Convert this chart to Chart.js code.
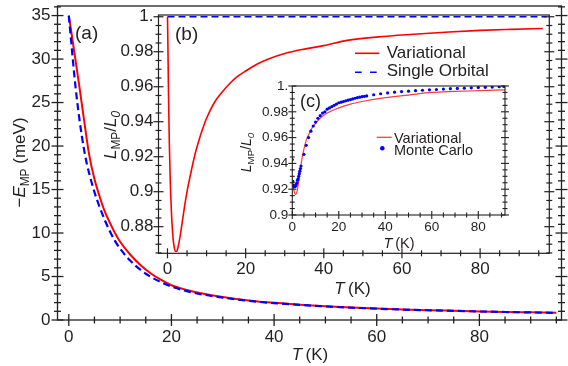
<!DOCTYPE html>
<html>
<head>
<meta charset="utf-8">
<script src="https://cdn.jsdelivr.net/npm/chart.js@4.4.0/dist/chart.umd.min.js"></script>
<style>
html, body { margin: 0; padding: 0; background: #fff; }
#wrap { position: relative; width: 568px; height: 366px; }
canvas { position: absolute; left: 0; top: 0; }
</style>
</head>
<body>
<div id="wrap">
  <canvas id="chartA" width="568" height="366"></canvas>
  <canvas id="chartB" width="568" height="366"></canvas>
  <canvas id="chartC" width="568" height="366"></canvas>
</div>
<script>
// ---- (a) -E_MP (meV) vs T (K)
const tempA = [0, 0.5, 1, 1.5, 2, 2.5, 3, 3.5, 4, 5, 6, 7, 8, 9, 10, 12, 14, 16, 18, 20, 23, 26, 30, 35, 40, 45, 50, 55, 60, 65, 70, 75, 80, 85, 90, 95];
const energyVar = [35, 33.1, 31.1, 29.1, 27.1, 25.0, 22.9, 20.8, 18.9, 16.2, 14.2, 12.5, 11.2, 10.0, 9.0, 7.5, 6.3, 5.35, 4.6, 4.0, 3.45, 3.05, 2.65, 2.25, 1.97, 1.76, 1.58, 1.44, 1.32, 1.22, 1.13, 1.06, 0.99, 0.93, 0.88, 0.83];
const energySingle = [35, 31.8, 28.6, 25.8, 23.4, 21.3, 19.5, 18.0, 16.8, 14.7, 13.0, 11.5, 10.2, 9.1, 8.2, 6.8, 5.75, 4.95, 4.35, 3.85, 3.32, 2.94, 2.57, 2.2, 1.94, 1.74, 1.56, 1.42, 1.3, 1.2, 1.12, 1.05, 0.98, 0.92, 0.87, 0.82];
const xTicksA = [0, 20, 40, 60, 80];
const yTicksA = [0, 5, 10, 15, 20, 25, 30, 35];

// ---- (b) L_MP/L_0 vs T (K)
const tempB = [0, 0.1, 0.25, 0.45, 0.7, 1.0, 1.3, 1.6, 2.0, 2.4, 2.8, 3.2, 3.8, 4.4, 5, 6, 7, 8, 9, 10, 12, 14, 16, 18, 20, 23, 26, 30, 35, 40, 46, 54, 63, 72, 80, 88, 96];
const ratioVarB = [1.0, 0.985, 0.958, 0.93, 0.907, 0.889, 0.877, 0.87, 0.866, 0.866, 0.8695, 0.874, 0.883, 0.892, 0.9, 0.911, 0.921, 0.929, 0.936, 0.942, 0.951, 0.957, 0.962, 0.966, 0.969, 0.973, 0.976, 0.979, 0.9815, 0.9835, 0.9865, 0.9885, 0.99, 0.9913, 0.9922, 0.9928, 0.9933];
const tempSingleB = [0, 97];
const ratioSingleB = [1, 1];
const xTicksB = [0, 20, 40, 60, 80];
const yTicksB = [0.88, 0.9, 0.92, 0.94, 0.96, 0.98, 1];
const yLabelsB = ['0.88', '0.9', '0.92', '0.94', '0.96', '0.98', '1.'];

// ---- (c) L_MP/L_0 vs T (K), variational vs Monte Carlo
const tempC = [0, 0.5, 1, 1.5, 2, 2.5, 3, 4, 5, 6, 7, 8, 10, 12, 15, 20, 25, 30, 40, 50, 60, 70, 80, 91.5];
const ratioVarC = [0.926, 0.921, 0.917, 0.916, 0.918, 0.923, 0.929, 0.942, 0.951, 0.958, 0.962, 0.966, 0.971, 0.975, 0.979, 0.983, 0.986, 0.988, 0.991, 0.993, 0.995, 0.9958, 0.9964, 0.997];
const tempMC = [0, 0.25, 0.5, 0.75, 1, 1.25, 1.5, 1.75, 2, 2.25, 2.5, 2.75, 3, 3.25, 3.5, 3.75,
  5, 6, 7, 8, 9, 10, 11, 12, 13, 14, 15, 16, 17, 18, 19, 20, 21, 22, 23, 24, 25, 26, 27, 28, 29, 30, 31, 32,
  35, 38, 41, 44, 47, 50, 53, 56, 59, 62, 65, 68, 71, 74, 77, 80, 83, 86, 89, 91];
const ratioMC = [0.943, 0.926, 0.923, 0.922, 0.922, 0.922, 0.923, 0.924, 0.925, 0.927, 0.928, 0.930, 0.932, 0.934, 0.936, 0.938,
  0.947, 0.954, 0.960, 0.965, 0.969, 0.972, 0.975, 0.977, 0.979, 0.980, 0.982, 0.983, 0.984, 0.985, 0.986, 0.987, 0.9875, 0.988, 0.9885, 0.989, 0.9895, 0.990, 0.9905, 0.991, 0.9913, 0.9917, 0.992, 0.9923,
  0.9932, 0.994, 0.9946, 0.9952, 0.9957, 0.996, 0.9964, 0.9967, 0.997, 0.9973, 0.9976, 0.9979, 0.9981, 0.9983, 0.9986, 0.9988, 0.999, 0.9992, 0.9994, 0.9996];
const xTicksC = [0, 20, 40, 60, 80];
const yTicksC = [0.9, 0.92, 0.94, 0.96, 0.98, 1];
const yLabelsC = ['0.9', '0.92', '0.94', '0.96', '0.98', '1.'];

const TXT = '#231f20';
const RED = '#ff0000';
const BLUE = '#0000ff';
const FONT = '"Liberation Sans", Arial, sans-serif';

Chart.defaults.font.family = FONT;
Chart.defaults.color = TXT;

const pts = (xs, ys) => xs.map((x, i) => ({ x: x, y: ys[i] }));

// rich text: parts = [[text, flags]], flags 'i' italic, 's' subscript
function richText(ctx, parts, x, y, size, align, rotate) {
    ctx.save();
    ctx.translate(x, y);
    if (rotate) ctx.rotate(-Math.PI / 2);
    const fontFor = p => (p[1].includes('i') ? 'italic ' : '') + (p[1].includes('s') ? size * 0.7 : size) + 'px ' + FONT;
    let w = 0;
    parts.forEach(p => { ctx.font = fontFor(p); w += ctx.measureText(p[0]).width; });
    let cx = align === 'center' ? -w / 2 : 0;
    ctx.fillStyle = TXT;
    ctx.textBaseline = 'alphabetic';
    ctx.textAlign = 'left';
    parts.forEach(p => {
        ctx.font = fontFor(p);
        ctx.fillText(p[0], cx, p[1].includes('s') ? size * 0.22 : 0);
        cx += ctx.measureText(p[0]).width;
    });
    ctx.restore();
}

// frame, mirrored crossing ticks, white plot background, annotations
function makeFrame(c) {
    return {
        id: 'frame_' + c.id,
        beforeDraw(chart) {
            if (!c.fill) return;
            const a = chart.chartArea, ctx = chart.ctx;
            ctx.save();
            ctx.fillStyle = '#fff';
            ctx.fillRect(a.left, a.top, a.right - a.left, a.bottom - a.top);
            ctx.restore();
        },
        afterDatasetsDraw(chart) {
            const a = chart.chartArea, ctx = chart.ctx;
            const xs = chart.scales.x, ys = chart.scales.y;
            ctx.save();
            ctx.strokeStyle = TXT;
            ctx.lineWidth = c.lw;
            ctx.strokeRect(a.left, a.top, a.right - a.left, a.bottom - a.top);
            const tick = (x1, y1, x2, y2) => { ctx.beginPath(); ctx.moveTo(x1, y1); ctx.lineTo(x2, y2); ctx.stroke(); };
            const steps = (min, max, st) => {
                const out = [];
                for (let v = Math.ceil(min / st - 1e-9) * st; v <= max + 1e-9; v += st) out.push(v);
                return out;
            };
            const isMajor = (v, st) => Math.abs(v / st - Math.round(v / st)) < 1e-6;
            steps(xs.min, xs.max, c.xMinor).forEach(v => {
                const L = isMajor(v, c.xMajor) ? c.major : c.minor;
                const px = xs.getPixelForValue(v);
                tick(px, a.bottom - L, px, a.bottom + L);
            });
            steps(ys.min, ys.max, c.yMinor).forEach(v => {
                const L = isMajor(v, c.yMajor) ? c.major : c.minor;
                const py = ys.getPixelForValue(v);
                tick(a.left - L, py, a.left + L, py);
                tick(a.right - L, py, a.right + L, py);
            });
            ctx.restore();
        },
        afterDraw(chart) {
            c.annotate(chart.ctx);
        }
    };
}

function buildChart(id, datasets, c) {
    return new Chart(document.getElementById(id), {
        type: 'scatter',
        data: { datasets: datasets },
        options: {
            responsive: false,
            animation: false,
            events: [],
            layout: { padding: { left: 0, top: c.area.top, right: 568 - c.area.right, bottom: 0 } },
            plugins: { legend: { display: false }, tooltip: { enabled: false } },
            scales: {
                x: {
                    type: 'linear', min: c.xMin, max: c.xMax,
                    grid: { display: false, drawTicks: false }, border: { display: false },
                    afterBuildTicks: s => { s.ticks = c.xTicks.map(v => ({ value: v })); },
                    afterFit: s => { s.height = 366 - c.area.bottom; s.paddingLeft = 0; s.paddingRight = 0; },
                    ticks: { autoSkip: false, maxRotation: 0, padding: c.xPad, color: TXT, font: { size: c.tickSize }, callback: (v, i) => c.xLabels[i] }
                },
                y: {
                    type: 'linear', min: c.yMin, max: c.yMax,
                    grid: { display: false, drawTicks: false }, border: { display: false },
                    afterBuildTicks: s => { s.ticks = c.yTicks.map(v => ({ value: v })); },
                    afterFit: s => { s.width = c.area.left; s.paddingTop = 0; s.paddingBottom = 0; },
                    ticks: { autoSkip: false, padding: c.yPad, color: TXT, font: { size: c.tickSize }, callback: (v, i) => c.yLabels[i] }
                }
            }
        },
        plugins: [makeFrame(c)]
    });
}

// ---- main panel (a)
buildChart('chartA', [
    { data: pts(tempA, energySingle), showLine: true, pointRadius: 0, borderColor: BLUE, borderWidth: 2.2, borderDash: [7, 4], cubicInterpolationMode: 'monotone' },
    { data: pts(tempA, energyVar), showLine: true, pointRadius: 0, borderColor: RED, borderWidth: 2, cubicInterpolationMode: 'monotone' }
], {
    id: 'a', area: { left: 57.5, top: 6, right: 561.5, bottom: 320 },
    xMin: -2.2, xMax: 96, yMin: 0, yMax: 36.1,
    xTicks: xTicksA, xLabels: xTicksA.map(String), yTicks: yTicksA, yLabels: yTicksA.map(String),
    xPad: 7, yPad: 7, tickSize: 17,
    xMajor: 20, xMinor: 5, yMajor: 5, yMinor: 1, major: 6, minor: 3.5, lw: 1.3, fill: false,
    annotate(ctx) {
        richText(ctx, [['(a)', '']], 75, 39, 19, 'left');
        richText(ctx, [['\u2212', ''], ['E', 'i'], ['MP', 's'], [' (meV)', '']], 25, 162.5, 17, 'center', true);
        richText(ctx, [['T', 'i'], ['\u2009(K)', '']], 310, 360, 17, 'center');
    }
});

// ---- inset (b)
buildChart('chartB', [
    { data: pts(tempSingleB, ratioSingleB), showLine: true, pointRadius: 0, borderColor: BLUE, borderWidth: 1.6, borderDash: [7, 4] },
    { data: pts(tempB, ratioVarB), showLine: true, pointRadius: 0, borderColor: RED, borderWidth: 1.6, cubicInterpolationMode: 'monotone' }
], {
    id: 'b', area: { left: 158.5, top: 15, right: 549.3, bottom: 253.3 },
    xMin: -2.3, xMax: 97.7, yMin: 0.8648, yMax: 1.001,
    xTicks: xTicksB, xLabels: xTicksB.map(String), yTicks: yTicksB, yLabels: yLabelsB,
    xPad: 6, yPad: 5, tickSize: 17,
    xMajor: 20, xMinor: 5, yMajor: 0.02, yMinor: 0.005, major: 5, minor: 3, lw: 1.2, fill: true,
    annotate(ctx) {
        richText(ctx, [['(b)', '']], 175, 39.5, 19, 'left');
        richText(ctx, [['L', 'i'], ['MP', 's'], ['/', ''], ['L', 'i'], ['0', 'si']], 116, 135, 17, 'center', true);
        richText(ctx, [['T', 'i'], ['\u2009(K)', '']], 352.5, 293.5, 17, 'center');
        ctx.save();
        ctx.lineWidth = 1.6;
        ctx.strokeStyle = RED;
        ctx.beginPath(); ctx.moveTo(355, 53.3); ctx.lineTo(379.3, 53.3); ctx.stroke();
        ctx.strokeStyle = BLUE;
        ctx.setLineDash([6.7, 8.3]);
        ctx.beginPath(); ctx.moveTo(355, 72.3); ctx.lineTo(377, 72.3); ctx.stroke();
        ctx.restore();
        richText(ctx, [['Variational', '']], 386.7, 58.3, 17, 'left');
        richText(ctx, [['Single Orbital', '']], 386.7, 76, 17, 'left');
    }
});

// ---- inset (c)
buildChart('chartC', [
    { data: pts(tempMC, ratioMC), showLine: false, pointRadius: 1.6, pointBackgroundColor: BLUE, pointBorderWidth: 0 },
    { data: pts(tempC, ratioVarC), showLine: true, pointRadius: 0, borderColor: '#ff3b3b', borderWidth: 1.2, cubicInterpolationMode: 'monotone' }
], {
    id: 'c', area: { left: 292.3, top: 86, right: 505, bottom: 215 },
    xMin: 0, xMax: 91.5, yMin: 0.9, yMax: 1.0,
    xTicks: xTicksC, xLabels: xTicksC.map(String), yTicks: yTicksC, yLabels: yLabelsC,
    xPad: 4, yPad: 4, tickSize: 13.5,
    xMajor: 20, xMinor: 5, yMajor: 0.02, yMinor: 0.005, major: 4, minor: 2.5, lw: 1.1, fill: true,
    annotate(ctx) {
        richText(ctx, [['(c)', '']], 300, 107, 18, 'left');
        richText(ctx, [['L', 'i'], ['MP', 's'], ['/', ''], ['L', 'i'], ['0', 'si']], 251, 152.5, 14, 'center', true);
        richText(ctx, [['T', 'i'], ['\u2009(K)', '']], 399, 247.5, 14.5, 'center');
        ctx.save();
        ctx.lineWidth = 1.3;
        ctx.strokeStyle = '#ff3b3b';
        ctx.beginPath(); ctx.moveTo(376.7, 137.3); ctx.lineTo(391.7, 137.3); ctx.stroke();
        ctx.fillStyle = BLUE;
        ctx.beginPath(); ctx.arc(382.3, 148.3, 2.3, 0, Math.PI * 2); ctx.fill();
        ctx.restore();
        richText(ctx, [['Variational', '']], 394, 143, 14.5, 'left');
        richText(ctx, [['Monte Carlo', '']], 394, 155, 14.5, 'left');
    }
});
</script>
</body>
</html>
